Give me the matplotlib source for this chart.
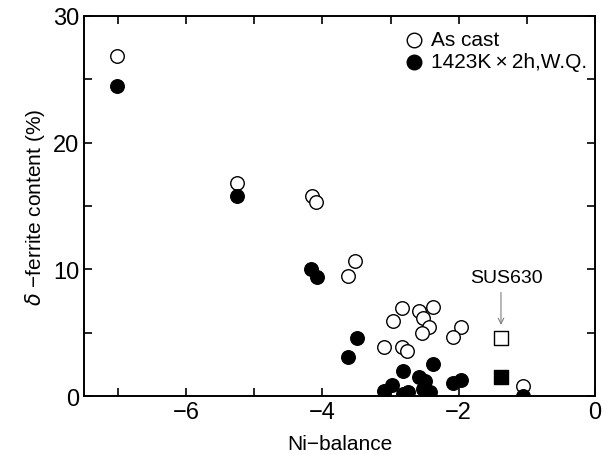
import matplotlib
matplotlib.use("Agg")
import matplotlib.pyplot as plt
from matplotlib.ticker import MultipleLocator

plt.rcParams['font.family'] = ['Liberation Sans', 'DejaVu Sans']

# as cast (open circles)
cast_x = [-7.01, -5.25, -4.16, -4.09, -3.62, -3.52,
          -2.83, -2.97, -2.59, -2.38, -2.53, -2.44, -2.54,
          -1.96, -2.09, -3.09, -2.84, -2.76, -1.06]
cast_y = [26.8, 16.8, 15.8, 15.3, 9.5, 10.65,
          6.95, 5.94, 6.7, 7.0, 6.2, 5.45, 4.97,
          5.45, 4.66, 3.87, 3.87, 3.55, 0.8]

# 1423K x 2h, W.Q. (filled circles)
wq_x = [-7.01, -5.25, -4.17, -4.08, -3.50, -3.62,
        -2.38, -2.82, -2.59, -2.50, -2.98, -3.09, -2.82, -2.75,
        -2.53, -2.42, -2.09, -1.96, -1.06]
wq_y = [24.5, 15.8, 10.0, 9.4, 4.6, 3.1,
        2.5, 1.95, 1.5, 1.2, 0.85, 0.4, 0.15, 0.3,
        0.55, 0.3, 1.0, 1.25, 0.05]

# SUS630
sus_x = [-1.38]
sus_cast_y = [4.6]
sus_wq_y = [1.5]

fig = plt.figure(figsize=(6.09, 4.56), dpi=100)
ax = fig.add_axes([0.138, 0.129, 0.839, 0.834])

ax.scatter(cast_x, cast_y, s=95, facecolors='white', edgecolors='black',
           linewidths=1.0, zorder=3)
ax.scatter(wq_x, wq_y, s=95, color='black', zorder=4)
ax.scatter(sus_x, sus_cast_y, s=110, marker='s', facecolors='white',
           edgecolors='black', linewidths=1.0, zorder=3)
ax.scatter(sus_x, sus_wq_y, s=110, marker='s', color='black', zorder=4)

ax.text(-1.3, 9.4, 'SUS630', ha='center', va='center', fontsize=14)
ax.annotate('', xy=(-1.38, 5.4), xytext=(-1.38, 8.4),
            arrowprops=dict(arrowstyle='->', color='gray', lw=0.8))

ax.set_xlim(-7.5, 0)
ax.set_ylim(0, 30)
ax.xaxis.set_major_locator(MultipleLocator(2))
ax.xaxis.set_minor_locator(MultipleLocator(1))
ax.yaxis.set_major_locator(MultipleLocator(10))
ax.yaxis.set_minor_locator(MultipleLocator(5))
ax.tick_params(which='both', direction='in', top=True, right=True,
               width=1.2, labelsize=17)
ax.tick_params(which='major', length=6)
ax.tick_params(which='minor', length=6)
for s in ax.spines.values():
    s.set_linewidth(1.4)

ax.set_xlabel('Ni\u2212balance', fontsize=15, labelpad=8)
ax.set_ylabel('$\\delta$ \u2212ferrite content (%)', fontsize=15)

# legend drawn by hand
ax.scatter([-2.65], [28.1], s=110, facecolors='white', edgecolors='black', linewidths=1.0)
ax.scatter([-2.65], [26.4], s=110, color='black')
ax.text(-2.4, 28.1, 'As cast', fontsize=15, va='center')
ax.text(-2.4, 26.4, '1423K\u2009\u00d7\u20092h,W.Q.', fontsize=15, va='center')

fig.savefig('out.png', dpi=100)
